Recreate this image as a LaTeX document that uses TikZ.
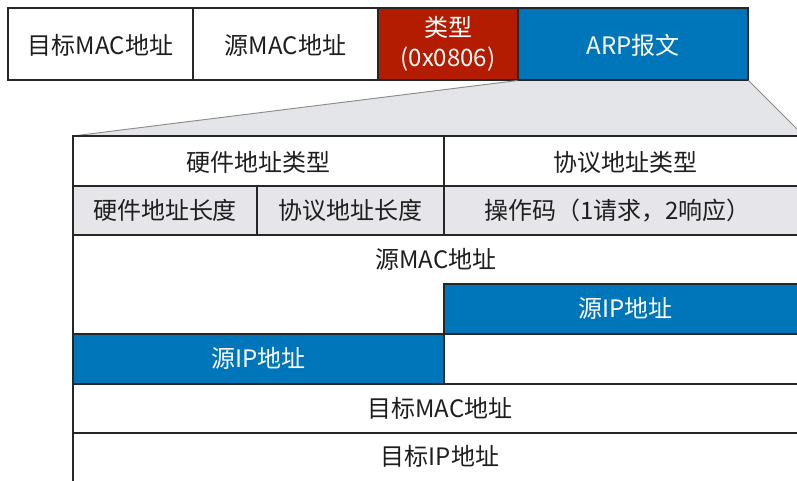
\documentclass[tikz,border=0pt]{standalone}
\usepackage{fontspec}
\setmainfont{Noto Sans CJK SC}
\usetikzlibrary{fit}
\definecolor{arpred}{HTML}{B31C00}
\definecolor{arpblue}{HTML}{0076BA}
\definecolor{rowgrey}{HTML}{E6E6EA}
\definecolor{fangrey}{HTML}{E4E5E9}
\definecolor{txt}{HTML}{1E1E1E}
\tikzset{
  cell/.style={draw=black!85, line width=0.8pt, inner sep=0pt, font=\fontsize{18}{22.5}\selectfont, text=txt, align=center},
  redcell/.style={cell, fill=arpred, text=white},
  bluecell/.style={cell, fill=arpblue, text=white},
  greycell/.style={cell, fill=rowgrey},
  fanline/.style={draw=black!45, line width=0.7pt},
  outline/.style={draw=black!85, line width=0.8pt},
  lbl/.style={inner sep=0pt, font=\fontsize{18}{22.5}\selectfont, text=txt, align=center, text height=13pt, text depth=0pt}
}
\begin{document}
\begin{tikzpicture}[x=0.75pt,y=-0.75pt]
\useasboundingbox (0,0) rectangle (797,480);
\clip (0,0) rectangle (797,480);
\fill[white] (0,0) rectangle (797,480);
% fan
\fill[fangrey] (518,80) -- (748,80) -- (800,132) -- (800,136) -- (73,136) -- cycle;
\coordinate (fl) at (73,136);
\coordinate (fr) at (800,132);
% top row
\node[cell, fit={(8,8) (193,80)}] (dmac) {};
\node[lbl] (dmacT) at ([yshift=-1pt]dmac.center) {目标MAC地址};
\node[cell, fit={(193,8) (378,80)}] (smac) {};
\node[lbl] (smacT) at ([yshift=-1pt]smac.center) {源MAC地址};
\node[redcell, fit={(378,8) (518,80)}] (type) {};
\node[lbl, text=white] (typeT1) at (378+70,28) {类型};
\node[lbl, text=white] (typeT2) at (378+70,58) {(0x0806)};
\node[bluecell, fit={(518,8) (748,80)}] (arp) {};
\node[lbl, text=white] (arpT) at ([yshift=-1pt]arp.center) {ARP报文};
\draw[fanline] (arp.south west) -- (fl);
\draw[fanline] (arp.south east) -- (fr);
% table
\node[cell, fill=white, fit={(73,136) (444,186)}] (hwtype) {};
\node[lbl] (hwtypeT) at ([yshift=-1pt]hwtype.center) {硬件地址类型};
\node[cell, fill=white, fit={(444,136) (807,186)}] (prtype) {};
\node[lbl] (prtypeT) at ([yshift=-1pt]prtype.center) {协议地址类型};
\node[greycell, fit={(73,186) (257,235)}] (hwlen) {};
\node[lbl] (hwlenT) at (hwlen.center) {硬件地址长度};
\node[greycell, fit={(257,186) (444,235)}] (prlen) {};
\node[lbl] (prlenT) at (prlen.center) {协议地址长度};
\node[greycell, fit={(444,186) (807,235)}] (op) {};
\node[lbl] (opT) at ([xshift=-6pt]op.center) {操作码（1请求，2响应）};
\draw[outline, fill=white] (73,235) -- (807,235) -- (807,284) -- (444,284) -- (444,334) -- (73,334) -- cycle;
\node[inner sep=0pt, fit={(73,235) (807,284)}] (srcmac) {};
\node[lbl] (srcmacT) at ([xshift=-3pt]srcmac.center) {源MAC地址};
\node[bluecell, fit={(444,284) (807,334)}] (srcip1) {};
\node[lbl, text=white] (srcip1T) at (srcip1.center) {源IP地址};
\node[bluecell, fit={(73,334) (444,384)}] (srcip2) {};
\node[lbl, text=white] (srcip2T) at (srcip2.center) {源IP地址};
\node[cell, fill=white, fit={(73,384) (807,433)}] (dstmac) {};
\node[lbl] (dstmacT) at (dstmac.center) {目标MAC地址};
\node[cell, fill=white, fit={(73,433) (807,484)}] (dstip) {};
\node[lbl] (dstipT) at ([yshift=1pt]dstip.center) {目标IP地址};
\end{tikzpicture}
\end{document}
